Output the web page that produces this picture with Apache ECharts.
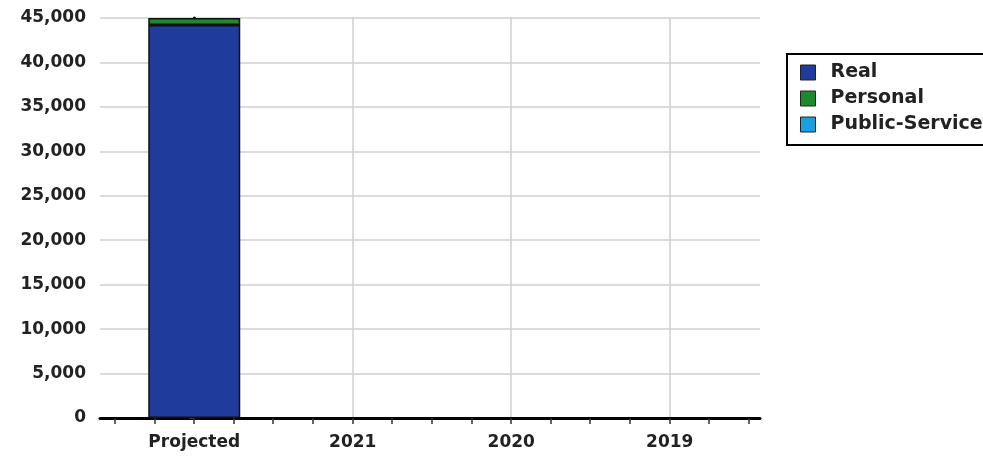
<!DOCTYPE html>
<html><head><meta charset="utf-8">
<script src="https://cdn.jsdelivr.net/npm/echarts@6/dist/echarts.min.js"></script>
<style>html,body{margin:0;padding:0;background:#fff}#c{width:983px;height:458px}</style>
</head><body><div id="c"></div>
<script>
const categories = ['Projected', '2021', '2020', '2019'];
const realValues = [44200, null, null, null];
const personalValues = [800, null, null, null];
const publicServiceValues = [null, null, null, null];
const yMax = 45000;
const yStep = 5000;

const idx = categories.map((c, i) => i);
const quarterTicks = [];
for (let i = -2; i <= 14; i++) quarterTicks.push(i / 4);
const font = 'DejaVu Sans';
const xMin = -0.593, xMax = 3.571;

const chart = echarts.init(document.getElementById('c'));
chart.setOption({
  animation: false,
  backgroundColor: '#fff',
  grid: [
    { left: 115, right: 234, top: 18, bottom: 40 },
    { left: 100, right: 223, top: 18, bottom: 40 }
  ],
  legend: {
    orient: 'vertical', left: 787, top: 54,
    borderColor: '#000', borderWidth: 2, padding: [9, 12, 11, 13],
    itemWidth: 15, itemHeight: 15, itemGap: 7, icon: 'rect',
    itemStyle: { borderColor: '#222', borderWidth: 1 },
    textStyle: { fontFamily: font, fontSize: 19, fontWeight: 'bold', color: '#222', padding: [0, 0, 0, 10] },
    data: ['Real', 'Personal', 'Public-Service']
  },
  xAxis: [
    { type: 'category', gridIndex: 0, data: categories, boundaryGap: true,
      axisLine: { show: false }, axisTick: { show: false },
      axisLabel: { margin: 16, fontFamily: font, fontSize: 17, fontWeight: 'bold', color: '#222' },
      splitLine: { show: false } },
    { type: 'value', gridIndex: 1, min: xMin, max: xMax,
      axisLine: { show: true, lineStyle: { color: '#000', width: 3 } },
      axisTick: { show: true, length: 6, customValues: quarterTicks, lineStyle: { color: '#333', width: 1.5 } },
      axisLabel: { show: false }, splitLine: { show: false } },
    { type: 'value', gridIndex: 1, min: xMin, max: xMax,
      axisLine: { show: false },
      axisTick: { show: false, customValues: idx.slice(1) },
      axisLabel: { show: false },
      splitLine: { show: true, lineStyle: { color: '#cfcfcf', width: 1.5 } } }
  ],
  yAxis: [
    { type: 'value', gridIndex: 0, min: 0, max: yMax, show: false, splitLine: { show: false } },
    { type: 'value', gridIndex: 1, min: 0, max: yMax, interval: yStep,
      axisLine: { show: true, lineStyle: { color: '#000', width: 3 } },
      axisTick: { show: true, length: 5, lineStyle: { color: '#333' } },
      axisLabel: { fontFamily: font, fontSize: 17, fontWeight: 'bold', color: '#222', margin: 14,
        formatter: v => v.toLocaleString('en-US') },
      splitLine: { show: true, lineStyle: { color: '#cfcfcf', width: 1.5 } } }
  ],
  series: [
    { name: 'Real', type: 'bar', stack: 't', barWidth: 92, xAxisIndex: 0, yAxisIndex: 0, data: realValues,
      itemStyle: { color: '#1f3c9c', borderColor: '#111', borderWidth: 1.5 }, z: 3 },
    { name: 'Personal', type: 'bar', stack: 't', barWidth: 92, xAxisIndex: 0, yAxisIndex: 0, data: personalValues,
      itemStyle: { color: '#1e8a2e', borderColor: '#111', borderWidth: 1.5 }, z: 3 },
    { name: 'Public-Service', type: 'bar', stack: 't', barWidth: 92, xAxisIndex: 0, yAxisIndex: 0, data: publicServiceValues,
      itemStyle: { color: '#1a9fe3', borderColor: '#111', borderWidth: 1.5 }, z: 3 }
  ]
});
</script></body></html>
